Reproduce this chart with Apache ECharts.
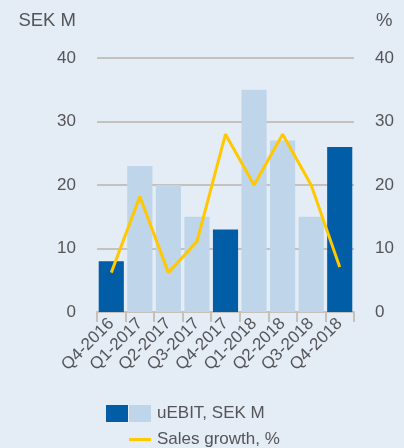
<!DOCTYPE html>
<html>
<head>
<meta charset="utf-8">
<script src="https://cdn.jsdelivr.net/npm/echarts@6/dist/echarts.min.js"></script>
<style>
  html, body { margin: 0; padding: 0; background: #e4ecf6; }
  #chart { width: 404px; height: 448px; }
</style>
</head>
<body>
<div id="chart"></div>
<script>
  // data
  var quarters = ['Q4-2016', 'Q1-2017', 'Q2-2017', 'Q3-2017', 'Q4-2017', 'Q1-2018', 'Q2-2018', 'Q3-2018', 'Q4-2018'];
  var uebit = [8, 23, 20, 15, 13, 35, 27, 15, 26];
  var salesGrowth = [6.2, 18.2, 6.2, 11.1, 28, 20, 28, 20, 7.1];
  var yTicks = [0, 10, 20, 30, 40];

  var dark = '#005da6';
  var light = '#bed5ea';
  var yellow = '#ffc800';
  var textColor = '#555558';
  var font = '"Liberation Sans", Arial, sans-serif';

  function svgIcon(body) {
    var svg = '<svg xmlns="http://www.w3.org/2000/svg" width="45" height="17" viewBox="0 0 45 17">' + body + '</svg>';
    return 'image://data:image/svg+xml;charset=utf8,' + encodeURIComponent(svg);
  }
  var barIcon = svgIcon('<rect x="0" y="0" width="22" height="17" fill="' + dark + '"/><rect x="23" y="0" width="22" height="17" fill="' + light + '"/>');
  var lineIcon = svgIcon('<rect x="23" y="7" width="22" height="3" fill="' + yellow + '"/>');

  var chart = echarts.init(document.getElementById('chart'));

  var yAxisBase = {
    type: 'value',
    min: yTicks[0],
    max: yTicks[yTicks.length - 1],
    interval: 10,
    nameLocation: 'end',
    nameGap: 28,
    axisLine: { show: false },
    axisTick: { show: false },
    axisLabel: { color: textColor, fontSize: 17, fontFamily: font, margin: 21 },
    splitLine: { lineStyle: { color: '#bab3ab', width: 1.5 } }
  };

  var legendBase = {
    left: 106,
    itemWidth: 45,
    itemHeight: 17,
    padding: 0,
    textStyle: { color: textColor, fontSize: 17, fontFamily: font, padding: [0, 0, 0, 1] }
  };

  chart.setOption({
    backgroundColor: '#e4ecf6',
    animation: false,
    grid: { left: 97, right: 50, top: 58, bottom: 136 },
    legend: [
      Object.assign({}, legendBase, { top: 405, data: [{ name: 'uEBIT, SEK M', icon: barIcon }] }),
      Object.assign({}, legendBase, { top: 431, data: [{ name: 'Sales growth, %', icon: lineIcon }] })
    ],
    xAxis: {
      type: 'category',
      data: quarters,
      axisLine: { lineStyle: { color: '#c8c1b9', width: 2 } },
      axisTick: { show: true, length: 10, lineStyle: { color: '#c8c1b9', width: 2 } },
      axisLabel: { rotate: 45, color: textColor, fontSize: 17, fontFamily: font, margin: 9, interval: 0 }
    },
    yAxis: [
      Object.assign({}, yAxisBase, {
        name: 'SEK M',
        nameTextStyle: { color: textColor, fontSize: 18.5, fontFamily: font, align: 'right', padding: [0, 21, 0, 0] }
      }),
      Object.assign({}, yAxisBase, {
        name: '%',
        position: 'right',
        splitLine: { show: false },
        nameTextStyle: { color: textColor, fontSize: 18.5, fontFamily: font, align: 'left', padding: [0, 0, 0, 22] }
      })
    ],
    series: [
      {
        name: 'uEBIT, SEK M',
        type: 'bar',
        barCategoryGap: '12%',
        data: uebit.map(function (v, i) {
          return { value: v, itemStyle: { color: quarters[i].indexOf('Q4') === 0 ? dark : light } };
        })
      },
      {
        name: 'Sales growth, %',
        type: 'line',
        yAxisIndex: 1,
        data: salesGrowth,
        symbol: 'none',
        lineStyle: { color: yellow, width: 3 },
        itemStyle: { color: yellow }
      }
    ]
  });
</script>
</body>
</html>
